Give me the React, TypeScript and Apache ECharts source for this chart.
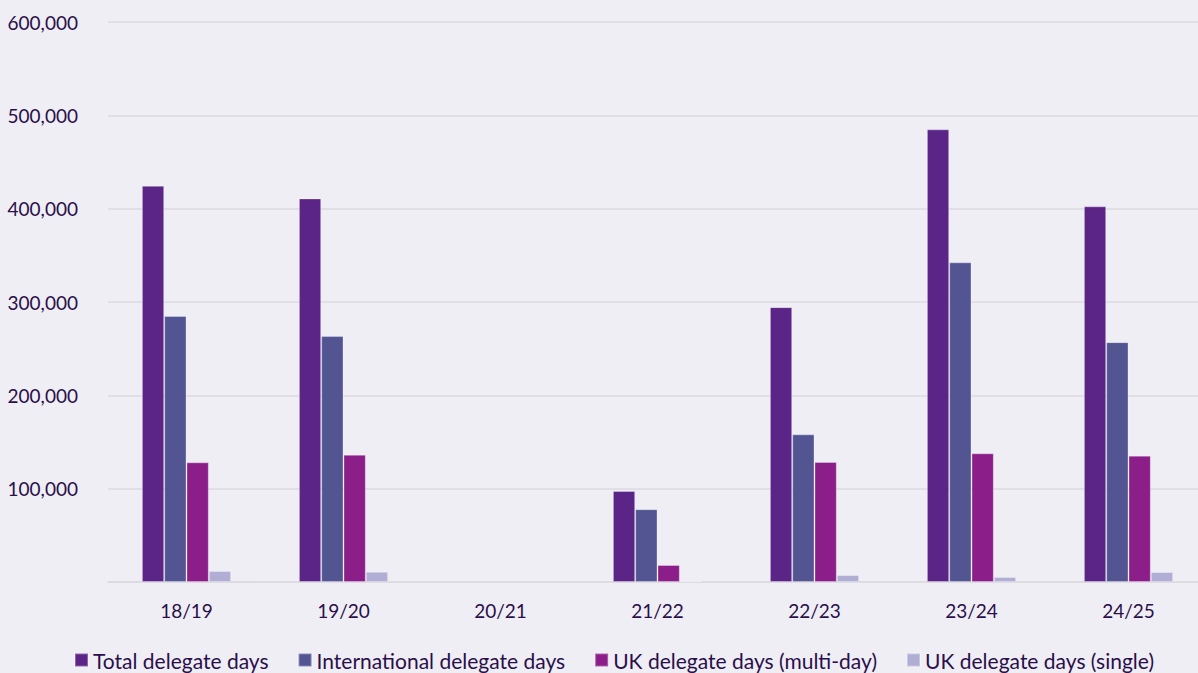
import React, { useEffect, useRef } from "react";
import * as echarts from "echarts";

const categories = ["18/19", "19/20", "20/21", "21/22", "22/23", "23/24", "24/25"];
const seriesNames = [
  "Total delegate days",
  "International delegate days",
  "UK delegate days (multi-day)",
  "UK delegate days (single)",
];
const totalDays = [424500, 411000, 0, 97500, 294500, 485000, 402500];
const internationalDays = [285000, 263500, 0, 78000, 158200, 342500, 257000];
const ukMultiDays = [128200, 136400, 0, 18200, 128600, 137900, 135400];
const ukSingleDays = [11800, 11000, 0, 1000, 7500, 5400, 10700];
const yTicks = [0, 100000, 200000, 300000, 400000, 500000, 600000];

const colors = ["#5B2587", "#535593", "#8B1E88", "#B0AED4"];
const textColor = "#2A0F4B";
const font = "Lato, 'Source Sans Pro', 'Noto Sans', sans-serif";

export default function App() {
  const ref = useRef<HTMLDivElement>(null);
  useEffect(() => {
    document.body.style.margin = "0";
    document.body.style.background = "#EFEEF4";
    if (!ref.current) return;
    const chart = echarts.init(ref.current, null, { renderer: "svg" });
    const values = [totalDays, internationalDays, ukMultiDays, ukSingleDays];
    chart.setOption({
      animation: false,
      backgroundColor: "#EFEEF4",
      textStyle: { fontFamily: font, color: textColor },
      grid: {
        left: 108,
        top: 22,
        width: 1099,
        height: 560,
        containLabel: false,
        outerBoundsMode: "none",
      },
      legend: {
        top: 648,
        left: 74,
        padding: 0,
        itemWidth: 13,
        itemHeight: 13,
        itemGap: 29,
        icon: "rect",
        textStyle: { fontFamily: font, fontSize: 21, lineHeight: 24, color: textColor },
        data: seriesNames,
      },
      xAxis: {
        type: "category",
        data: categories,
        axisLine: { show: true, lineStyle: { color: "#DCDAE0", width: 1.5 } },
        axisTick: { show: false },
        axisLabel: { fontFamily: font, fontSize: 19, color: textColor, margin: 19 },
      },
      yAxis: {
        type: "value",
        min: yTicks[0],
        max: yTicks[yTicks.length - 1],
        interval: yTicks[1] - yTicks[0],
        axisLine: { show: false },
        axisTick: { show: false },
        splitLine: { lineStyle: { color: "#DCDAE0", width: 1.5 } },
        axisLabel: {
          fontFamily: font,
          fontSize: 19,
          color: textColor,
          margin: 30,
          formatter: (v: number) => (v === 0 ? "" : v.toLocaleString("en-GB")),
        },
      },
      series: seriesNames.map((name, i) => ({
        name,
        type: "bar",
        data: values[i].map((v) =>
          v === 0 ? { value: v, itemStyle: { borderWidth: 0 } } : v
        ),
        barWidth: 22.3,
        barGap: "0%",
        itemStyle: {
          color: colors[i],
          borderColor: "rgba(255,255,255,0.3)",
          borderWidth: 1,
        },
      })),
    });
    return () => chart.dispose();
  }, []);
  return <div ref={ref} style={{ width: 1198, height: 673 }} />;
}
